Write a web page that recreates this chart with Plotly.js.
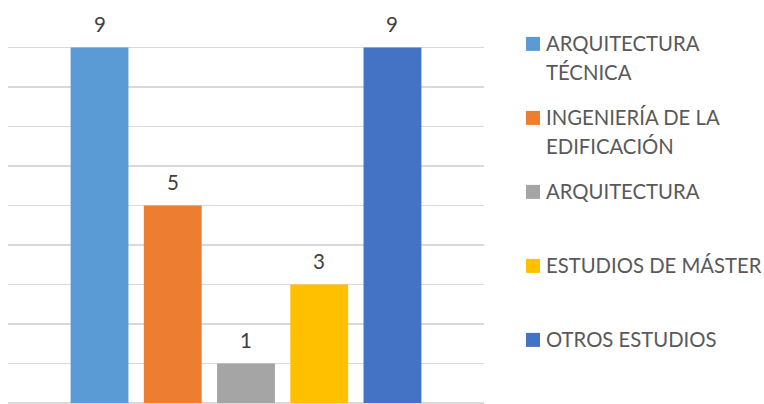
<!DOCTYPE html>
<html>
<head>
<meta charset="utf-8">
<script src="https://cdn.plot.ly/plotly-3.0.1.min.js"></script>
<style>html,body{margin:0;padding:0;background:#fff;}#chart{width:764px;height:404px;}</style>
</head>
<body>
<div id="chart"></div>
<script>
var categories = ["ARQUITECTURA TÉCNICA", "INGENIERÍA DE LA EDIFICACIÓN", "ARQUITECTURA", "ESTUDIOS DE MÁSTER", "OTROS ESTUDIOS"];
var legendLabels = ["ARQUITECTURA<br>TÉCNICA", "INGENIERÍA DE LA<br>EDIFICACIÓN", "ARQUITECTURA", "ESTUDIOS DE MÁSTER", "OTROS ESTUDIOS"];
var values = [9, 5, 1, 3, 9];
var colors = ["#5B9BD5", "#ED7D31", "#A5A5A5", "#FFC000", "#4472C4"];

var W = 764, H = 404;
var M = {l: 8, r: 280, t: 8, b: 1};
var PW = W - M.l - M.r, PH = H - M.t - M.b;
function px2x(px) { return (px - M.l) / PW; }
function py2y(py) { return (H - M.b - py) / PH; }

var FONT = "Lato, 'Open Sans', sans-serif";
var traces = [];
var annotations = [];
var shapes = [];
for (var i = 0; i < categories.length; i++) {
  traces.push({
    type: "bar",
    name: categories[i],
    x: [categories[i]],
    y: [values[i]],
    width: 0.79,
    marker: {color: colors[i]},
    hoverinfo: "x+y",
    showlegend: false
  });
  annotations.push({
    x: categories[i], y: values[i], xref: "x", yref: "y",
    text: String(values[i]), showarrow: false,
    yanchor: "bottom", yshift: 10,
    font: {family: FONT, size: 20.5, color: "#404040"}
  });
  // manual legend
  var baseline = 50.7 + 74 * i;
  var sqC = baseline - 6.8;
  shapes.push({
    type: "rect", xref: "paper", yref: "paper",
    x0: px2x(526), x1: px2x(540), y0: py2y(sqC + 7), y1: py2y(sqC - 7),
    fillcolor: colors[i], line: {width: 0}
  });
  var lines = legendLabels[i].split("<br>");
  for (var j = 0; j < lines.length; j++) {
    var capC = baseline - 7.8 + 29.3 * j;
    annotations.push({
      xref: "paper", yref: "paper",
      x: px2x(544), y: py2y(capC),
      xanchor: "left", yanchor: "middle",
      text: lines[j], showarrow: false,
      font: {family: FONT, size: 20.3, color: "#595959"}
    });
  }
}

var layout = {
  width: W, height: H,
  margin: M,
  paper_bgcolor: "#fff", plot_bgcolor: "#fff",
  barmode: "overlay",
  showlegend: false,
  xaxis: {
    type: "category", range: [-1.25, 5.25], fixedrange: true,
    showgrid: false, showticklabels: false, ticks: "", showline: false, zeroline: false
  },
  yaxis: {
    range: [0, 10], dtick: 1, tick0: 0, fixedrange: true,
    showgrid: true, gridcolor: "#d9d9d9", gridwidth: 1.5,
    zeroline: true, zerolinecolor: "#d9d9d9", zerolinewidth: 1.5,
    showticklabels: false, ticks: "", showline: false
  },
  annotations: annotations,
  shapes: shapes
};

Plotly.newPlot("chart", traces, layout, {displayModeBar: false, staticPlot: true});
</script>
</body>
</html>
